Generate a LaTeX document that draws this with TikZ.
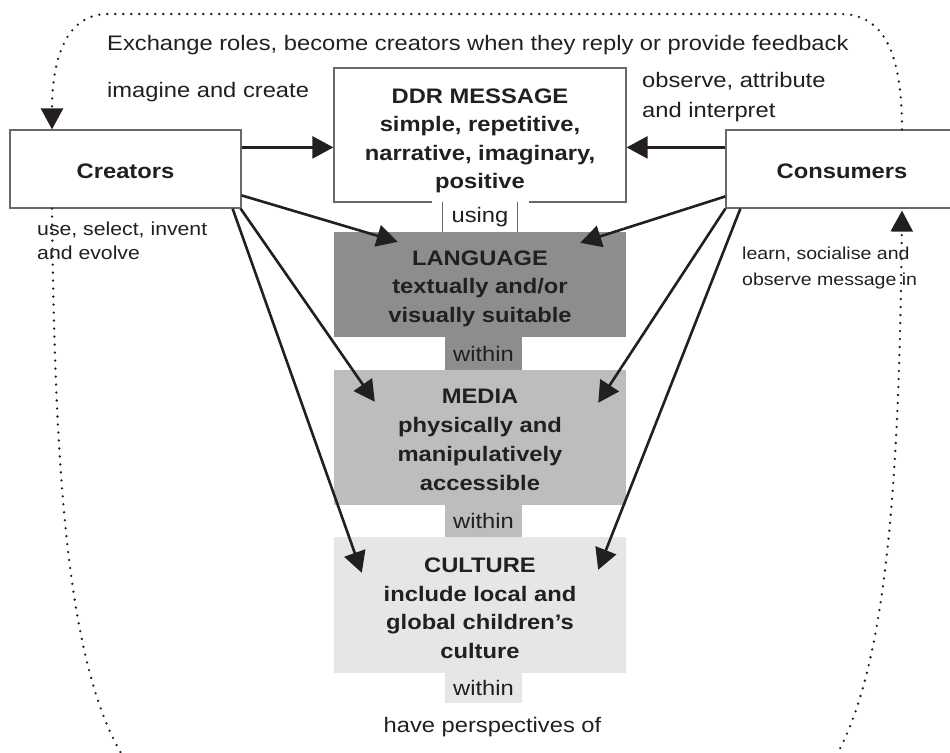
\documentclass[tikz,border=0pt]{standalone}
\usepackage{fontspec}
\setmainfont[FakeStretch=1.13]{Liberation Sans}
\usetikzlibrary{arrows.meta,calc}
\definecolor{txt}{RGB}{35,31,32}
\definecolor{edgec}{RGB}{105,105,105}
\definecolor{langc}{RGB}{141,141,144}
\definecolor{mediac}{RGB}{189,189,191}
\definecolor{cultc}{RGB}{229,230,231}
\begin{document}
\begin{tikzpicture}[x=1pt,y=-1pt,
  box/.style={draw=edgec, line width=1.2pt, fill=white, inner sep=0pt, text=txt,
    font=\bfseries\fontsize{21}{28.5}\selectfont, align=center},
  band/.style={inner sep=0pt, text=txt, font=\bfseries\fontsize{21}{28.8}\selectfont, align=center},
  tabtxt/.style={inner sep=0pt, text=txt, font=\fontsize{21}{25}\selectfont,
    minimum width=77pt, minimum height=33pt},
  lbl/.style={inner sep=0pt, text=txt, align=left, anchor=base west},
  arr/.style={draw=txt, line width=2.6pt, -{Triangle[length=21pt,width=22pt]}},
  dotarr/.style={draw=txt, line width=2.6pt, dash pattern=on 0pt off 8pt, line cap=round,
    -{Triangle[length=21pt,width=22pt]}}]
\useasboundingbox (0,0) rectangle (950,752);
\clip (0,0) rectangle (950,752);

% main boxes
\node[box, minimum width=231pt, minimum height=78pt] (cre) at (125.5,169) {\rule{0pt}{19pt}Creators};
\node[box, minimum width=232pt, minimum height=78pt] (con) at (842,169) {\rule{0pt}{19pt}Consumers};
\node[box, minimum width=292pt, minimum height=134pt] (ddr) at (480,135)
  {\rule{0pt}{26pt}DDR MESSAGE\\simple, repetitive,\\narrative, imaginary,\\positive};

% using tab
\fill[white] (432,199) rectangle (529,205);
\node[tabtxt, fill=white, minimum width=74pt, minimum height=30pt] (using) at (480,217) {using};
\draw[edgec, line width=1.2pt] (using.north west) -- (using.south west)
  (using.north east) -- (using.south east);

% shaded bands
\node[band, fill=langc, minimum width=292pt, minimum height=105pt] (lang) at (480,284.5)
  {\rule{0pt}{23pt}LANGUAGE\\textually and/or\\visually suitable};
\node[tabtxt, fill=langc] (w1) at (483.5,353.5) {within};
\node[band, fill=mediac, minimum width=292pt, minimum height=135pt] (media) at (480,437.5)
  {\rule{0pt}{19pt}MEDIA\\physically and\\manipulatively\\accessible};
\node[tabtxt, fill=mediac, minimum height=32pt] (w2) at (483.5,521) {within};
\node[band, fill=cultc, minimum width=292pt, minimum height=136pt] (cult) at (480,605)
  {\rule{0pt}{21pt}CULTURE\\include local and\\global children’s\\culture};
\node[tabtxt, fill=cultc, minimum height=30pt] (w3) at (483.5,688) {within};

% labels
\node[lbl, font=\fontsize{21}{28}\selectfont] (ex) at (107,51)
  {Exchange roles, become creators when they reply or provide feedback};
\node[lbl, font=\fontsize{21}{28}\selectfont] (im) at (107,97) {imagine and create};
\node[lbl, font=\fontsize{21}{29}\selectfont] (ob) at (642,117) {observe, attribute\\and interpret};
\node[lbl, font=\fontsize{18.8}{24}\selectfont] (us) at (37,259) {use, select, invent\\and evolve};
\node[lbl, font=\fontsize{17.3}{26}\selectfont] (le) at (742,285) {learn, socialise and\\observe message in};
\node[inner sep=0pt, text=txt, anchor=base, font=\fontsize{21}{28}\selectfont] (hp) at (492.5,732)
  {have perspectives of};

% solid arrows
\draw[arr] ($(cre.north east)+(0,18)$) -- ($(ddr.north west)+(0,80)$);
\draw[arr] ($(con.north west)+(0,18)$) -- ($(ddr.north east)+(0,80)$);
\draw[arr] ($(cre.north east)+(0,66)$) -- ($(lang.north west)+(64,10)$);
\draw[arr] ($(cre.south east)+(-1,0)$) -- ($(media.north west)+(41,32)$);
\draw[arr] ($(cre.south east)+(-9,0)$) -- ($(cult.north west)+(28,36)$);
\draw[arr] ($(con.north west)+(0,67)$) -- ($(lang.north east)+(-46,11)$);
\draw[arr] (con.south west) -- ($(media.north east)+(-28,33)$);
\draw[arr] ($(con.south west)+(15,0)$) -- ($(cult.north east)+(-28,33)$);

% dotted feedback loops
\draw[dotarr] ($(con.north)+(60,0)$) .. controls (902,55) and (885,14) .. (840,14)
  -- (108,14) .. controls (68,14) and (52,55) .. ($(cre.north)+(-73.5,0)$);
\draw[dotarr] ($(cre.south)+(-73.5,0)$) .. controls (55,500) and (70,700) .. (140,780)
  -- (820,780) .. controls (885,700) and (899,500) .. ($(con.south)+(60,2)$);
\end{tikzpicture}
\end{document}
